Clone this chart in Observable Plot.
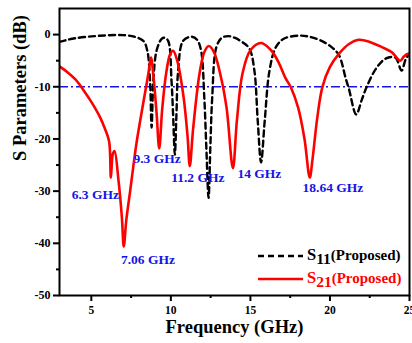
<!DOCTYPE html>
<html>
<head>
<meta charset="utf-8">
<script src="https://cdn.jsdelivr.net/npm/d3@7"></script>
<script src="https://cdn.jsdelivr.net/npm/@observablehq/plot@0.6"></script>
<style>
  html, body { margin: 0; padding: 0; background: #fff; }
</style>
</head>
<body>
<div id="chart"></div>
<script>
// S21 (Proposed) – red solid
const s21Freq = [3.0, 3.5, 4.0, 4.5, 5.0, 5.56, 5.85, 6.12, 6.23, 6.35, 6.46, 6.71, 6.92, 7.04, 7.2, 7.44, 7.65, 7.86, 8.27, 8.58, 8.75, 8.92, 9.1, 9.27, 9.45, 9.7, 9.95, 10.14, 10.4, 10.8, 11.05, 11.19, 11.4, 11.8, 12.1, 12.38, 12.7, 13.1, 13.5, 13.9, 14.15, 14.5, 15.0, 15.67, 16.3, 16.8, 17.2, 17.54, 18.0, 18.4, 18.73, 18.9, 19.2, 19.52, 20.0, 20.56, 21.2, 21.81, 22.5, 23.27, 23.9, 24.42, 24.65, 24.9, 25.0];
const s21Db   = [-6.1, -7.2, -8.6, -10.6, -12.9, -15.9, -18.0, -20.5, -27.4, -22.9, -22.3, -28.0, -35.0, -40.6, -35.5, -30.0, -25.0, -20.4, -13.0, -7.6, -4.4, -8.5, -15.0, -21.8, -14.5, -7.5, -3.8, -3.1, -5.0, -12.0, -19.5, -25.2, -18.0, -7.5, -3.4, -2.2, -3.3, -7.5, -14.0, -25.6, -16.5, -7.5, -3.0, -1.6, -3.0, -5.5, -8.3, -10.1, -14.0, -20.0, -27.4, -24.0, -16.0, -10.1, -6.2, -3.7, -1.8, -1.0, -1.4, -2.4, -3.4, -5.0, -4.2, -3.7, -3.8];

// S11 (Proposed) – black dashed
const s11Freq = [3.0, 3.5, 4.0, 5.0, 6.0, 7.0, 7.7, 8.27, 8.52, 8.69, 8.79, 8.9, 9.1, 9.42, 9.6, 9.83, 10.04, 10.14, 10.25, 10.35, 10.46, 10.77, 11.3, 11.65, 11.9, 12.1, 12.23, 12.37, 12.48, 12.6, 12.86, 13.2, 13.6, 14.0, 14.52, 14.94, 15.25, 15.46, 15.67, 15.9, 16.2, 16.6, 17.1, 18.06, 18.7, 19.4, 20.1, 20.56, 21.0, 21.2, 21.65, 22.0, 22.3, 22.9, 23.5, 24.1, 24.5, 24.75, 25.0];
const s11Db   = [-1.4, -1.0, -0.7, -0.35, -0.15, -0.1, -0.4, -1.2, -3.1, -8.8, -17.8, -8.8, -3.1, -0.8, -0.6, -1.2, -8.8, -15.3, -23.0, -15.3, -6.9, -1.2, -0.4, -1.0, -3.1, -12.0, -21.7, -31.3, -21.7, -12.0, -2.4, -0.6, -0.3, -0.6, -1.5, -2.7, -6.9, -16.5, -24.5, -16.5, -6.9, -2.4, -0.8, -0.2, -0.4, -1.1, -2.4, -3.9, -8.5, -10.5, -15.3, -12.5, -10.1, -6.5, -4.6, -4.4, -6.9, -4.8, -3.6];

// Reference level
const refLevel = [-10];

// Resonance annotations (label positions in data units)
const noteText = ["6.3 GHz", "7.06 GHz", "9.3 GHz", "11.2 GHz", "14 GHz", "18.64 GHz"];
const noteFreq = [5.25, 8.56, 9.13, 11.69, 15.56, 20.19];
const noteDb   = [-30.6, -43.1, -23.7, -27.5, -26.7, -29.4];

// Ticks
const xTicks = [5, 10, 15, 20, 25];
const xMinor = [7.5, 12.5, 17.5, 22.5];
const yTicks = [0, -10, -20, -30, -40, -50];
const yMinor = [-5, -15, -25, -35, -45];

// Legend entries
const legendSub = ["11", "21"];
const legendColor = ["#000", "#ff0000"];
const legendDash = ["6,4", null];

const s21 = s21Freq.map((f, i) => ({f, db: s21Db[i]}));
const s11 = s11Freq.map((f, i) => ({f, db: s11Db[i]}));
const notes = noteText.map((t, i) => ({t, f: noteFreq[i], db: noteDb[i]}));

const serif = "'Liberation Serif', 'Times New Roman', serif";
const blue = "#1414e6";

const chart = Plot.plot({
  width: 412,
  height: 343,
  marginLeft: 59,
  marginRight: 3,
  marginTop: 8,
  marginBottom: 48,
  style: {fontFamily: serif, fontWeight: "bold", fontSize: "11.5px", background: "#fff", overflow: "visible", color: "#000"},
  x: {domain: [3, 25]},
  y: {domain: [-50, 5]},
  marks: [
    Plot.axisX({ticks: xTicks, tickSize: 6, tickPadding: 4, strokeWidth: 2, tickFormat: d => String(d), label: null, fontSize: 11.5}),
    Plot.axisX({ticks: xMinor, tickSize: 3, strokeWidth: 2, tickFormat: () => "", label: null}),
    Plot.axisY({ticks: yTicks, tickSize: 6, tickPadding: 3, strokeWidth: 2, tickFormat: d => String(d), label: null, fontSize: 12}),
    Plot.axisY({ticks: yMinor, tickSize: 3, strokeWidth: 2, tickFormat: () => "", label: null}),
    Plot.ruleY(refLevel, {stroke: blue, strokeWidth: 1.6, strokeDasharray: "9,3,2,3"}),
    Plot.line(s11, {x: "f", y: "db", stroke: "#000", strokeWidth: 2.4, strokeDasharray: "6,4", curve: "catmull-rom", clip: true}),
    Plot.line(s21, {x: "f", y: "db", stroke: "#ff0000", strokeWidth: 2.6, curve: "catmull-rom", clip: true}),
    Plot.text(notes, {x: "f", y: "db", text: "t", fill: blue, fontSize: 13.5, fontWeight: "bold", fontFamily: serif}),
    Plot.frame({stroke: "#000", strokeWidth: 2}),
    Plot.text(["Frequency (GHz)"], {frameAnchor: "bottom", dy: 37, text: d => d, fontSize: 18.5, fontWeight: "bold", fontFamily: serif, fill: "#000"}),
    Plot.text(["S Parameters (dB)"], {frameAnchor: "left", dx: -39, dy: 9, rotate: -90, text: d => d, fontSize: 18.5, fontWeight: "bold", fontFamily: serif, fill: "#000"})
  ]
});

document.getElementById("chart").appendChild(chart);

// Legend (inside lower-right of the frame)
const svg = d3.select(chart);
const leg = svg.append("g").attr("font-family", serif).attr("font-weight", "bold").attr("text-anchor", "start");
legendSub.forEach((sub, i) => {
  const y = 256 + i * 23;
  const ln = leg.append("line").attr("x1", 258).attr("x2", 303).attr("y1", y).attr("y2", y)
    .attr("stroke", legendColor[i]).attr("stroke-width", 2.4);
  if (legendDash[i]) ln.attr("stroke-dasharray", legendDash[i]);
  const t = leg.append("text").attr("x", 307).attr("y", y + 4).attr("fill", legendColor[i]).attr("font-size", 16.5).attr("text-anchor", "start");
  t.append("tspan").text("S");
  t.append("tspan").attr("dy", 4).attr("font-size", 15.5).text(sub);
  t.append("tspan").attr("dy", -4).attr("font-size", 15).text("(Proposed)");
});
</script>
</body>
</html>
